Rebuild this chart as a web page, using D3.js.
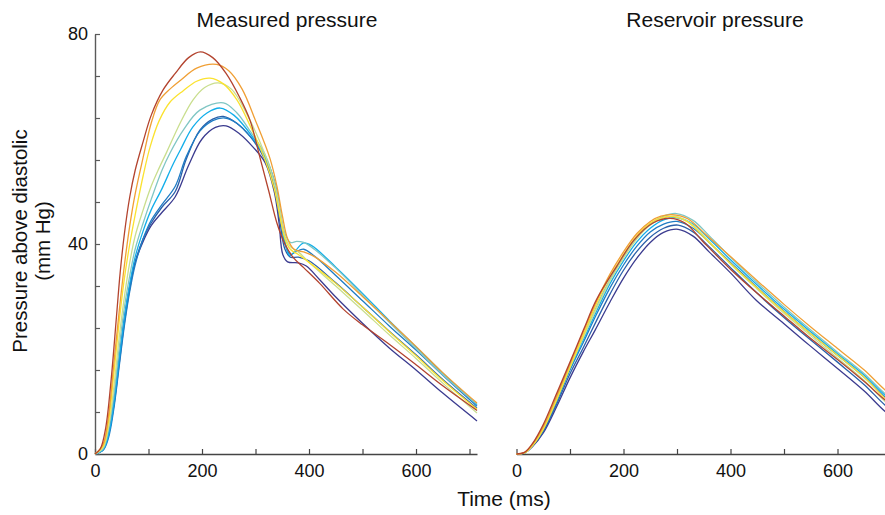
<!DOCTYPE html>
<html>
<head>
<meta charset="utf-8">
<script src="https://cdn.jsdelivr.net/npm/d3@7"></script>
<style>
  body { margin: 0; background: #fff; }
  svg { font-family: "Liberation Sans", Arial, Helvetica, sans-serif; }
</style>
</head>
<body>
<div id="chart"></div>
<script>
// series colours, lowest peak to highest peak
const colors = ["#3b3b8f", "#2a5fa9", "#1f7cc4", "#12aeea", "#80c6c4", "#c9de8e", "#fbe22f", "#f09f34", "#b3432e"];

// Measured pressure, [ms, mm Hg above diastolic]
const measNavy = [[0,0],[15,1],[25,4],[35,10],[45,18],[55,26],[65,32],[75,36.5],[90,40.5],[105,43.5],[125,46],[150,49],[175,55],[200,60],[225,62.2],[245,62.5],[270,61],[295,58.5],[318,55.5],[335,50],[344,44],[351,38],[360,36.6],[380,36.4],[395,35.8],[420,33.2],[450,29.9],[500,24.9],[550,20.2],[600,16],[650,11.6],[714,6.3]];
const measDarkBlue = [[0,0],[15,0.8],[25,3.5],[35,9],[45,17],[55,25],[65,31.5],[75,36.5],[90,41],[105,44],[125,47],[150,50],[170,56],[196,61.7],[220,63.8],[240,64.3],[265,63],[290,60.5],[318,56],[335,51],[346,44],[355,39],[365,37.5],[380,37.5],[400,36.8],[450,32.6],[500,28],[550,23.4],[600,18.9],[650,14.2],[714,8.7]];
const measBlue = [[0,0],[15,0.7],[25,3],[35,8.5],[45,16.5],[55,24.5],[65,31],[75,36],[90,41],[105,44.5],[125,47.5],[150,51],[170,56.5],[196,61.5],[220,63.5],[243,64],[265,63],[290,60.5],[318,56.5],[335,52],[346,46],[355,40],[365,38],[375,38.5],[390,39],[410,37.7],[450,34],[500,29.2],[550,24.4],[600,19.8],[650,15],[714,9.1]];
const measCyan = [[0,0],[15,0.8],[25,3.5],[35,9.5],[45,18],[55,26],[65,32.5],[75,37.5],[90,42.5],[105,46.5],[125,50.5],[145,55],[160,58],[183,62.3],[210,65],[234,65.9],[260,64.5],[290,61],[318,56.5],[335,52],[346,46],[355,40.5],[364,37.8],[375,38.8],[390,40.2],[405,39.7],[450,35.6],[500,30.6],[550,25.4],[600,20.4],[650,15.4],[714,9.4]];
const measTeal = [[0,0],[15,1],[25,4.5],[35,11],[45,20],[55,28],[65,34],[75,39],[90,44],[105,48.5],[125,54],[140,57.3],[165,61.7],[196,65.5],[240,66.9],[265,65],[290,61.5],[318,57],[335,52],[346,46.5],[355,42],[365,40.3],[377,40.5],[390,40.3],[410,39],[450,35.4],[500,30.3],[550,25.1],[600,20.1],[650,15.1],[714,9.5]];
const measGreen = [[0,0],[15,1.2],[25,5],[35,12.5],[45,22],[55,30],[65,36.5],[75,41.5],[90,46.5],[105,51],[120,54.5],[134,57.5],[159,63],[183,67.4],[205,69.8],[230,70.7],[255,69.5],[285,64.5],[318,57],[335,51.5],[346,46],[355,41.5],[365,39.5],[380,38.5],[400,36.5],[450,32],[500,27.4],[550,22.7],[600,18.2],[650,13.5],[714,7.8]];
const measYellow = [[0,0],[15,1.5],[25,6],[35,15],[45,25],[55,33.5],[65,40],[75,45.5],[90,53],[103,58.5],[120,63.5],[140,67],[165,69.2],[190,71],[215,71.6],[240,70.5],[265,67.5],[290,62.5],[318,56],[335,50.5],[346,45],[355,41],[365,39],[380,38],[400,36.5],[450,32.5],[500,28],[550,23.3],[600,18.7],[650,14],[714,8.5]];
const measOrange = [[0,0],[15,1.8],[25,7],[35,17],[45,27],[55,36],[65,43.5],[75,49.5],[90,56.5],[105,63],[121,67.4],[140,69.5],[160,71.2],[190,73.5],[227,74.2],[250,73],[275,69.5],[300,63.5],[327,56.3],[340,51],[350,45.5],[360,41],[372,39],[390,38.5],[410,37.6],[450,34.6],[500,30],[550,25.3],[600,20.5],[650,15.5],[714,9.7]];
const measBrown = [[0,0],[10,1],[20,5],[30,14],[40,26],[47,34.5],[55,42],[65,49],[75,54],[90,59.5],[105,64.5],[127,69.3],[150,72.5],[175,75.5],[197,76.6],[220,75.5],[245,72.5],[270,68],[290,63.5],[308,56.6],[325,50],[340,44],[355,40],[370,37.5],[390,35.5],[420,32.5],[464,27.6],[500,24.6],[550,20.9],[600,17],[650,13],[714,8.3]];

// Reservoir pressure, [ms, mm Hg above diastolic]
const resNavy = [[0,0],[15,0.2],[30,1.4],[50,4],[75,9],[100,14.5],[125,19.5],[147,23.6],[175,29],[200,33.5],[225,37.3],[250,40.3],[275,42.2],[302,42.8],[330,41.5],[360,38.5],[400,34.5],[448,29.3],[500,24.8],[550,20.5],[600,16.3],[650,12],[689,8.1],[714,6.3]];
const resDarkBlue = [[0,0],[15,0.2],[30,1.5],[50,4.3],[75,9.5],[100,15.3],[125,20.3],[150,25.5],[175,30.5],[200,35],[225,38.6],[250,41.3],[275,43],[302,43.6],[330,42.3],[360,39.5],[400,35.5],[450,30.6],[500,26],[550,21.7],[600,17.5],[650,13.2],[689,9.3],[714,7.5]];
const resBlue = [[0,0],[15,0.2],[30,1.6],[50,4.5],[75,10],[100,16],[125,21.3],[150,26.7],[175,31.7],[200,36],[225,39.6],[250,42.3],[275,43.8],[300,44.3],[330,43],[360,40.3],[400,36.5],[450,31.7],[500,27.2],[550,22.9],[600,18.8],[650,14.6],[689,10.8],[714,9]];
const resCyan = [[0,0],[15,0.2],[30,1.6],[50,4.8],[75,10.3],[100,16.3],[125,21.8],[150,27.3],[175,32.5],[200,36.8],[225,40.4],[250,43],[275,44.6],[300,45],[330,43.8],[360,41],[400,37],[450,32.2],[500,27.6],[550,23.3],[600,19.1],[650,15],[689,11.2],[714,9.4]];
const resTeal = [[0,0],[15,0.2],[30,1.7],[50,5],[75,10.8],[100,16.8],[125,22.5],[150,28.2],[175,33.3],[200,37.6],[225,41.2],[250,43.8],[275,45.3],[299,45.8],[330,44.5],[360,41.6],[400,37.5],[450,32.6],[500,28],[550,23.6],[600,19.4],[650,15.3],[689,11.5],[714,9.7]];
const resGreen = [[0,0],[15,0.2],[30,1.7],[50,4.9],[75,10.5],[100,16.5],[125,22.2],[150,27.8],[175,33],[200,37.3],[225,41],[250,43.6],[275,45],[295,45.3],[325,44],[360,40.5],[400,36.2],[450,31.4],[500,26.8],[550,22.5],[600,18.3],[650,14],[689,10],[714,8.2]];
const resYellow = [[0,0],[15,0.2],[30,1.6],[50,4.7],[75,10.3],[100,16.5],[125,22.7],[150,28.7],[175,33.8],[200,38],[225,41.6],[250,44],[275,45.1],[293,45.2],[320,44.2],[355,40.8],[400,36.3],[450,31.6],[500,27.1],[550,22.9],[600,18.8],[650,14.6],[689,10.6],[714,8.8]];
const resOrange = [[0,0],[15,0.3],[30,1.9],[50,5.2],[75,11],[100,17.2],[125,23.3],[150,29.2],[175,34.3],[200,38.5],[225,42],[250,44.3],[270,45.3],[290,45.6],[320,44.8],[355,41.7],[400,37.6],[450,33],[500,28.5],[550,24.2],[600,20.1],[650,16],[689,12.2],[714,10.4]];
const resBrown = [[0,0],[15,0.3],[30,2],[50,5.6],[75,11.5],[100,17.5],[125,23.6],[150,29.5],[187,35.7],[220,40.8],[255,44],[287,44.9],[315,44],[350,40.3],[400,35.2],[450,30.6],[500,26.3],[550,22],[600,18],[650,13.8],[689,10.3],[714,8.5]];

const measured = [measNavy, measDarkBlue, measBlue, measCyan, measTeal, measGreen, measYellow, measOrange, measBrown];
const reservoir = [resNavy, resDarkBlue, resBlue, resCyan, resTeal, resGreen, resYellow, resOrange, resBrown];

const xTicks = [0, 100, 200, 300, 400, 500, 600, 700];
const yTicks = [0, 8, 16, 24, 32, 40, 48, 56, 64, 72, 80];

const W = 885, H = 515;
const svg = d3.select("#chart").append("svg")
    .attr("width", W)
    .attr("height", H);

const yScale = d3.scaleLinear().domain([0, 80]).range([454, 34]);

const line = (x) => d3.line()
    .x(d => x(d[0]))
    .y(d => yScale(d[1]))
    .curve(d3.curveCatmullRom.alpha(0.5));

function panel(left, series, title, withY) {
    const x = d3.scaleLinear().domain([0, 714]).range([left, left + 382]);

    const xAxis = svg.append("g")
        .attr("transform", "translate(0,454)")
        .call(d3.axisBottom(x)
            .tickValues(xTicks)
            .tickSizeInner(-5)
            .tickSizeOuter(0)
            .tickPadding(10)
            .tickFormat(d => d % 200 === 0 ? d : ""));
    xAxis.select(".domain").attr("stroke", "#444").attr("stroke-width", 1.4);
    xAxis.selectAll(".tick line").attr("stroke", "#444").attr("stroke-width", 1.2);
    xAxis.selectAll("text").attr("font-size", 18).attr("fill", "#111").attr("font-family", "Liberation Sans, Arial");

    if (withY) {
        const yAxis = svg.append("g")
            .attr("transform", `translate(${left},0)`)
            .call(d3.axisLeft(yScale)
                .tickValues(yTicks)
                .tickSizeInner(-5)
                .tickSizeOuter(0)
                .tickPadding(7)
                .tickFormat(d => d % 40 === 0 ? d : ""));
        yAxis.select(".domain").attr("stroke", "#5a5a5a").attr("stroke-width", 1.4);
        yAxis.selectAll(".tick line").attr("stroke", "#5a5a5a").attr("stroke-width", 1.2);
        yAxis.selectAll("text").attr("font-size", 18).attr("fill", "#111").attr("font-family", "Liberation Sans, Arial");
    }

    svg.append("g")
        .selectAll("path")
        .data(series)
        .join("path")
        .attr("d", d => line(x)(d))
        .attr("fill", "none")
        .attr("stroke", (d, i) => colors[i])
        .attr("stroke-width", 1.3);

    svg.append("text")
        .attr("x", title.cx)
        .attr("y", 27)
        .attr("text-anchor", "middle")
        .attr("font-size", 21)
        .attr("fill", "#111")
        .text(title.text);
}

panel(95, measured, { text: "Measured pressure", cx: 287 }, true);
panel(516.5, reservoir, { text: "Reservoir pressure", cx: 715 }, false);

// y axis label, two lines
svg.append("text")
    .attr("transform", "translate(27,241) rotate(-90)")
    .attr("text-anchor", "middle")
    .attr("font-size", 20.5)
    .attr("fill", "#111")
    .text("Pressure above diastolic");
svg.append("text")
    .attr("transform", "translate(50,241) rotate(-90)")
    .attr("text-anchor", "middle")
    .attr("font-size", 20.5)
    .attr("fill", "#111")
    .text("(mm Hg)");

// x axis label
svg.append("text")
    .attr("x", 504)
    .attr("y", 506)
    .attr("text-anchor", "middle")
    .attr("font-size", 21)
    .attr("fill", "#111")
    .text("Time (ms)");
</script>
</body>
</html>
